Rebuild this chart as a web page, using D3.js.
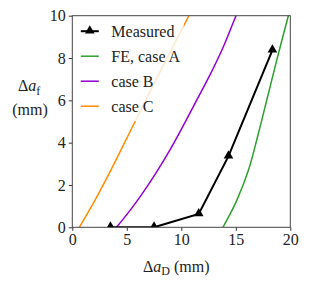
<!DOCTYPE html>
<html>
<head>
<meta charset="utf-8">
<script src="https://cdn.jsdelivr.net/npm/d3@7"></script>
<style>
  body { margin: 0; background: #fff; }
  text { font-family: "Liberation Serif", "DejaVu Serif", serif; fill: #222; }
</style>
</head>
<body>
<div id="chart"></div>
<script>
// measured points (Δa_D, Δa_f) in mm
var measured = [[3.5, 0], [7.5, 0], [11.6, 0.63], [14.33, 3.36], [18.36, 8.37]];
// FE curves
var caseA = [[13.82, 0], [14.4, 0.55], [15.08, 1.26], [16.15, 2.68], [17.06, 4.41], [17.98, 6.3], [18.9, 8.19], [19.82, 10], [19.95, 10.25]];
var caseB = [[4.05, 0], [5.3, 0.8], [6.5, 1.65], [7.74, 2.62], [8.96, 3.66], [10.05, 4.68], [11.2, 5.8], [12.63, 7.2], [13.85, 8.52], [15.02, 10], [15.2, 10.2]];
var caseC = [[0.64, 0], [2.1, 1.3], [3.47, 2.63], [5.75, 4.99], [8.2, 7.5], [10.7, 10], [10.9, 10.2]];

var xTicks = [0, 5, 10, 15, 20];
var yTicks = [0, 2, 4, 6, 8, 10];

var series = [
  {name: "FE, case A", data: caseA, color: "#2ca02c"},
  {name: "case B", data: caseB, color: "#9400d3"},
  {name: "case C", data: caseC, color: "#ff8c00"}
];

var W = 309, H = 290;
var margin = {top: 15.7, right: 18.7, bottom: 62.7, left: 72.3},
    width = W - margin.left - margin.right,
    height = H - margin.top - margin.bottom;

var svg = d3.select("#chart").append("svg")
    .attr("width", W)
    .attr("height", H);

var g = svg.append("g")
    .attr("transform", "translate(" + margin.left + "," + margin.top + ")");

var x = d3.scaleLinear().domain([0, 20]).range([0, width]);
var y = d3.scaleLinear().domain([0, 10]).range([height, 0]);

g.append("clipPath").attr("id", "clip")
  .append("rect").attr("width", width).attr("height", height);

var line = d3.line()
    .x(function(d) { return x(d[0]); })
    .y(function(d) { return y(d[1]); });
var smooth = d3.line()
    .curve(d3.curveCatmullRom)
    .x(function(d) { return x(d[0]); })
    .y(function(d) { return y(d[1]); });

var plot = g.append("g").attr("clip-path", "url(#clip)");

plot.selectAll(".fe")
  .data(series)
  .enter().append("path")
    .attr("class", "fe")
    .attr("d", function(d) { return smooth(d.data); })
    .attr("fill", "none")
    .attr("stroke", function(d) { return d.color; })
    .attr("stroke-width", 1.5);

plot.append("path")
    .attr("d", line(measured))
    .attr("fill", "none")
    .attr("stroke", "#000")
    .attr("stroke-width", 2);

var tri = d3.symbol().type(d3.symbolTriangle).size(40);

plot.selectAll(".pt")
  .data(measured)
  .enter().append("path")
    .attr("class", "pt")
    .attr("d", tri)
    .attr("transform", function(d) { return "translate(" + x(d[0]) + "," + (y(d[1]) - 0.5) + ")"; })
    .attr("fill", "#000");

// axes
var xAxis = g.append("g")
    .attr("transform", "translate(0," + height + ")")
    .call(d3.axisBottom(x).tickValues(xTicks).tickSize(3.5).tickPadding(3));
var yAxis = g.append("g")
    .call(d3.axisLeft(y).tickValues(yTicks).tickSize(3.5).tickPadding(3));

[xAxis, yAxis].forEach(function(a) {
  a.select(".domain").remove();
  a.selectAll("line").attr("stroke", "#333").attr("stroke-width", 1);
  a.selectAll("text").style("font-size", "16px").style("font-family", "Liberation Serif").attr("fill", "#222");
});

// frame
g.append("rect")
    .attr("width", width)
    .attr("height", height)
    .attr("fill", "none")
    .attr("stroke", "#444")
    .attr("stroke-width", 1);

// legend
var leg = g.append("g").attr("transform", "translate(3.5,3.5)");
leg.append("rect")
    .attr("width", 108)
    .attr("height", 102)
    .attr("fill", "#fff")
    .attr("fill-opacity", 0.8);

var items = [{name: "Measured", color: "#000", marker: true}].concat(series);
var row = leg.selectAll(".item")
  .data(items)
  .enter().append("g")
    .attr("transform", function(d, i) { return "translate(0," + (12 + i * 25) + ")"; });

row.append("line")
    .attr("x1", 5).attr("x2", 23)
    .attr("stroke", function(d) { return d.color; })
    .attr("stroke-width", function(d) { return d.marker ? 2 : 1.5; });
row.filter(function(d) { return d.marker; })
  .append("path")
    .attr("d", tri)
    .attr("transform", "translate(14,-0.5)")
    .attr("fill", "#000");
row.append("text")
    .attr("x", 35.5)
    .attr("y", 5.5)
    .style("font-size", "16px")
    .text(function(d) { return d.name; });

// axis titles
var xl = svg.append("text")
    .attr("x", 143)
    .attr("y", 271.5)
    .style("font-size", "16px");
xl.append("tspan").text("Δ");
xl.append("tspan").style("font-style", "italic").text("a");
xl.append("tspan").attr("dy", 3.5).style("font-size", "12px").text("D");
xl.append("tspan").attr("dy", -3.5).text(" (mm)");

var yl = svg.append("text")
    .attr("x", 18)
    .attr("y", 91)
    .style("font-size", "16px");
yl.append("tspan").text("Δ");
yl.append("tspan").style("font-style", "italic").text("a");
yl.append("tspan").attr("dy", 3.5).style("font-size", "12px").text("f");

svg.append("text")
    .attr("x", 30)
    .attr("y", 114.5)
    .attr("text-anchor", "middle")
    .style("font-size", "16px")
    .text("(mm)");
</script>
</body>
</html>
